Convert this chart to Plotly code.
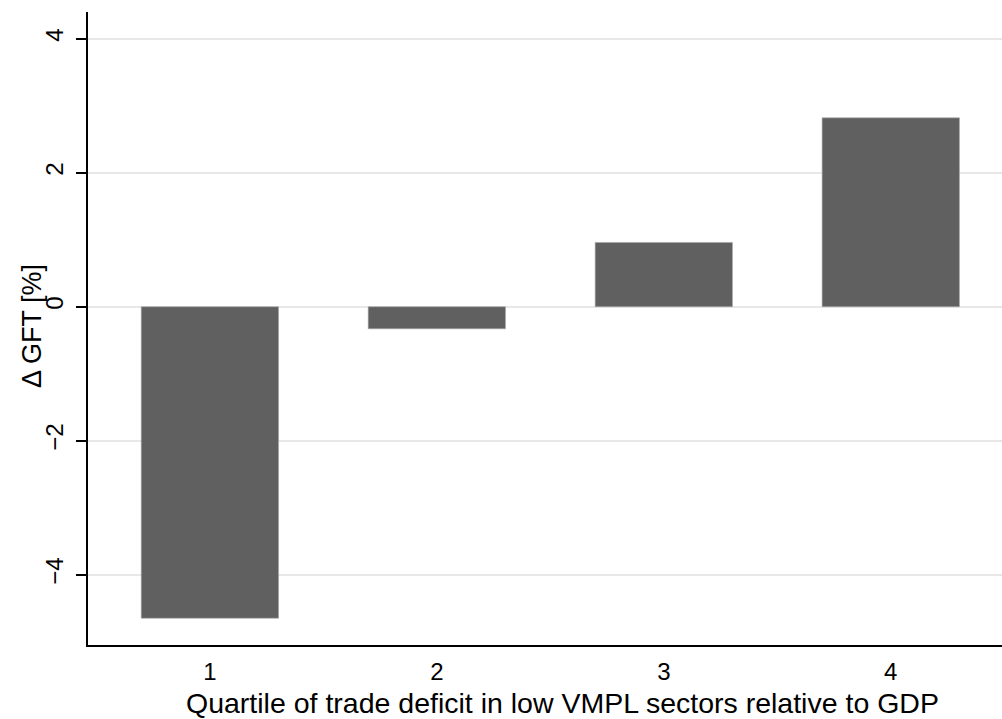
import plotly.graph_objects as go

quartiles = [1, 2, 3, 4]
delta_gft = [-4.65, -0.33, 0.96, 2.82]
y_ticks = [-4, -2, 0, 2, 4]
y_tick_labels = ["\u22124", "\u22122", "0", "2", "4"]
x_title = "Quartile of trade deficit in low VMPL sectors relative to GDP"
y_title = "\u0394 GFT [%]"

fig = go.Figure()
fig.add_trace(go.Bar(
    x=quartiles, y=delta_gft, width=0.605,
    marker=dict(color="#606060", line=dict(color="#a8a8a8", width=0.6)),
))

font = "Liberation Sans, Arial, sans-serif"
fig.update_layout(
    width=1002, height=719,
    margin=dict(l=88, r=0, t=12, b=74),
    plot_bgcolor="white", paper_bgcolor="white",
    showlegend=False,
    font=dict(family=font, color="black"),
    xaxis=dict(
        range=[0.463, 4.49], tickvals=quartiles, ticktext=[str(q) for q in quartiles],
        showgrid=False, zeroline=False, showline=True, linecolor="black", linewidth=1.5,
        ticks="", tickfont=dict(size=24), ticklabelstandoff=4,
    ),
    yaxis=dict(
        range=[-5.05, 4.40], tickvals=y_ticks, ticktext=y_tick_labels,
        showgrid=True, gridcolor="#e8e8e8", gridwidth=1.5, zeroline=False,
        showline=True, linecolor="black", linewidth=1.5,
        ticks="outside", ticklen=10, tickwidth=1.5, tickcolor="black",
        tickangle=-90, tickfont=dict(size=24), ticklabelstandoff=4,
    ),
    annotations=[
        dict(text=x_title, xref="paper", yref="paper", x=0.5186, y=-0.092,
             xanchor="center", yanchor="middle", showarrow=False, font=dict(size=28.5)),
        dict(text=y_title, xref="paper", yref="paper", x=-0.0613, y=0.504, textangle=-90,
             xanchor="center", yanchor="middle", showarrow=False, font=dict(size=27)),
    ],
)

fig.write_html("out.html", config={"displayModeBar": False},
               post_script="document.body.style.margin='0';document.body.style.overflow='hidden';")
